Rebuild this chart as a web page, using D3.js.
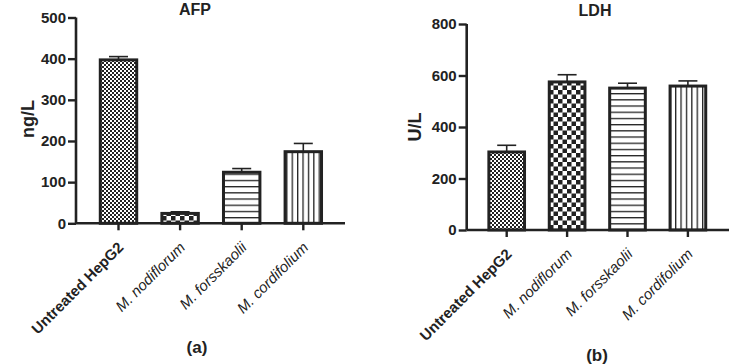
<!DOCTYPE html>
<html>
<head>
<meta charset="utf-8">
<script src="https://cdn.jsdelivr.net/npm/d3@7"></script>
<style>
  body { margin: 0; background: #fff; }
  svg { display: block; font-family: "Liberation Sans", Arial, sans-serif; }
</style>
</head>
<body>
<div id="chart"></div>
<script>
// Data
const categories = ["Untreated HepG2", "M. nodiflorum", "M. forsskaolii", "M. cordifolium"];
const afpValues = [397, 24, 124, 174];
const afpErrors = [8, 4, 9, 20];
const ldhValues = [303, 575, 551, 559];
const ldhErrors = [26, 28, 19, 20];
const afpTicks = [0, 100, 200, 300, 400, 500];
const ldhTicks = [0, 200, 400, 600, 800];
const patternIds = ["fineCheck", "bigCheck", "hLines", "vLines"];

const ink = "#222";

const svg = d3.select("#chart").append("svg")
    .attr("width", 737)
    .attr("height", 364);

// Fill patterns
const defs = svg.append("defs");

const fine = defs.append("pattern").attr("id", "fineCheck")
    .attr("patternUnits", "userSpaceOnUse").attr("width", 4).attr("height", 4);
fine.append("rect").attr("width", 4).attr("height", 4).attr("fill", "#fff");
fine.append("rect").attr("width", 2).attr("height", 2).attr("fill", ink);
fine.append("rect").attr("x", 2).attr("y", 2).attr("width", 2).attr("height", 2).attr("fill", ink);

const big = defs.append("pattern").attr("id", "bigCheck")
    .attr("patternUnits", "userSpaceOnUse").attr("width", 9).attr("height", 9);
big.append("rect").attr("width", 9).attr("height", 9).attr("fill", "#fff");
big.append("rect").attr("width", 4.5).attr("height", 4.5).attr("fill", ink);
big.append("rect").attr("x", 4.5).attr("y", 4.5).attr("width", 4.5).attr("height", 4.5).attr("fill", ink);

const hl = defs.append("pattern").attr("id", "hLines")
    .attr("patternUnits", "userSpaceOnUse").attr("width", 6).attr("height", 6.2);
hl.append("rect").attr("width", 6).attr("height", 6.2).attr("fill", "#fff");
hl.append("rect").attr("y", 0).attr("width", 6).attr("height", 1.3).attr("fill", ink);

const vl = defs.append("pattern").attr("id", "vLines")
    .attr("patternUnits", "userSpaceOnUse").attr("width", 5.4).attr("height", 6);
vl.append("rect").attr("width", 5.4).attr("height", 6).attr("fill", "#fff");
vl.append("rect").attr("x", 0).attr("width", 1.3).attr("height", 6).attr("fill", ink);

function drawPanel(opts) {
    const g = svg.append("g");

    const y = d3.scaleLinear()
        .domain([0, d3.max(opts.ticks)])
        .range([opts.y0, opts.yTop]);

    const x = d3.scaleBand()
        .domain(categories)
        .range([opts.xFirst - opts.step / 2, opts.xFirst + opts.step * 3.5])
        .paddingInner(0.36)
        .paddingOuter(0.18);

    // bars
    g.selectAll(".bar")
        .data(categories)
        .enter()
        .append("rect")
        .attr("x", d => x(d) + 1.5)
        .attr("y", (d, i) => y(opts.values[i]))
        .attr("width", x.bandwidth() - 3)
        .attr("height", (d, i) => opts.y0 - y(opts.values[i]))
        .attr("fill", (d, i) => `url(#${patternIds[i]})`)
        .attr("stroke", ink)
        .attr("stroke-width", 3);

    // error bars (upper only)
    const err = g.selectAll(".err")
        .data(categories)
        .enter()
        .append("g");
    err.append("line")
        .attr("x1", d => x(d) + x.bandwidth() / 2)
        .attr("x2", d => x(d) + x.bandwidth() / 2)
        .attr("y1", (d, i) => y(opts.values[i]))
        .attr("y2", (d, i) => y(opts.values[i] + opts.errors[i]))
        .attr("stroke", ink)
        .attr("stroke-width", 1.6);
    err.append("line")
        .attr("x1", d => x(d) + x.bandwidth() / 2 - 9.5)
        .attr("x2", d => x(d) + x.bandwidth() / 2 + 9.5)
        .attr("y1", (d, i) => y(opts.values[i] + opts.errors[i]))
        .attr("y2", (d, i) => y(opts.values[i] + opts.errors[i]))
        .attr("stroke", ink)
        .attr("stroke-width", 1.6);

    // y axis
    const yAxis = g.append("g")
        .attr("transform", `translate(${opts.xAxis},0)`)
        .call(d3.axisLeft(y).tickValues(opts.ticks).tickSize(8).tickPadding(2).tickSizeOuter(0));
    yAxis.select(".domain").attr("stroke", ink).attr("stroke-width", 2.6)
        .attr("d", `M0,${opts.y0}V${opts.yTop}`);
    yAxis.selectAll(".tick line").attr("stroke", ink).attr("stroke-width", 2.4);
    yAxis.selectAll(".tick text")
        .attr("fill", ink)
        .style("font-size", "15px")
        .style("font-weight", "bold")
        .style("font-family", "Liberation Sans, Arial, sans-serif");

    // x axis
    const xAxis = g.append("g")
        .attr("transform", `translate(0,${opts.y0})`)
        .call(d3.axisBottom(x).tickSize(7).tickSizeOuter(0).tickFormat(""));
    xAxis.select(".domain").attr("stroke", ink).attr("stroke-width", 2.6)
        .attr("d", `M${opts.xAxis},0H${opts.xEnd}`);
    xAxis.selectAll(".tick line").attr("stroke", ink).attr("stroke-width", 2.4);

    // category labels
    g.selectAll(".cat")
        .data(categories)
        .enter()
        .append("text")
        .attr("text-anchor", "end")
        .attr("transform", d => `translate(${x(d) + x.bandwidth() / 2 + 6},${opts.y0 + 25}) rotate(-45)`)
        .attr("fill", ink)
        .style("font-size", "15px")
        .style("font-weight", (d, i) => i === 0 ? "bold" : "normal")
        .style("font-style", (d, i) => i === 0 ? "normal" : "italic")
        .text(d => d);

    // title
    g.append("text")
        .attr("x", opts.titleX)
        .attr("y", opts.titleY)
        .attr("text-anchor", "middle")
        .attr("fill", ink)
        .style("font-size", "16px")
        .style("font-weight", "bold")
        .text(opts.title);

    // y axis label
    g.append("text")
        .attr("transform", `translate(${opts.labelX},${opts.labelY}) rotate(-90)`)
        .attr("text-anchor", "middle")
        .attr("fill", ink)
        .style("font-size", "18px")
        .style("font-weight", "bold")
        .text(opts.yLabel);

    // panel letter
    g.append("text")
        .attr("x", opts.letterX)
        .attr("y", opts.letterY)
        .attr("text-anchor", "middle")
        .attr("fill", ink)
        .style("font-size", "17px")
        .style("font-weight", "bold")
        .text(opts.letter);
}

drawPanel({
    values: afpValues, errors: afpErrors, ticks: afpTicks,
    y0: 223.3, yTop: 17.5, xAxis: 76, xEnd: 345,
    xFirst: 118.5, step: 61.6,
    title: "AFP", titleX: 195, titleY: 15,
    yLabel: "ng/L", labelX: 34, labelY: 119,
    letter: "(a)", letterX: 197, letterY: 353
});

drawPanel({
    values: ldhValues, errors: ldhErrors, ticks: ldhTicks,
    y0: 230, yTop: 24, xAxis: 466.7, xEnd: 729,
    xFirst: 506.7, step: 60.4,
    title: "LDH", titleX: 595, titleY: 16,
    yLabel: "U/L", labelX: 421, labelY: 127,
    letter: "(b)", letterX: 597, letterY: 361
});
</script>
</body>
</html>
